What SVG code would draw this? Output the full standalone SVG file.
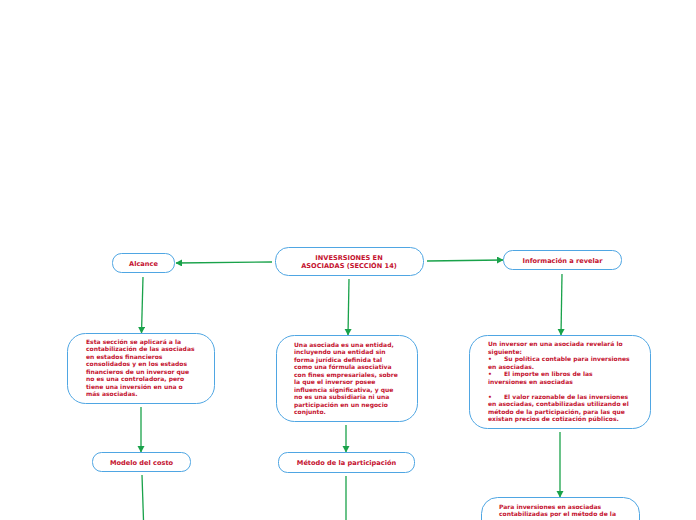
<svg xmlns="http://www.w3.org/2000/svg" width="696" height="520" viewBox="0 0 696 520">
<style>
.box{fill:#fff;stroke:#4fa6e3;stroke-width:1}
.t{font-family:"DejaVu Sans",Verdana,sans-serif;font-weight:bold;fill:#c4122f}
.h{font-size:6.6px;text-anchor:middle}
.b{font-size:6px}
.c{stroke:#19a24a;stroke-width:1.3;fill:none;marker-end:url(#ah)}
.cn{stroke:#19a24a;stroke-width:1.3;fill:none}
</style>
<defs>
<marker id="ah" markerWidth="8" markerHeight="8" refX="6" refY="3.5" orient="auto" markerUnits="userSpaceOnUse">
<path d="M0,0 L6.5,3.5 L0,7 Z" fill="#19a24a"/>
</marker>
</defs>
<rect width="696" height="520" fill="#fff"/>
<g id="connectors">
<path class="c" d="M272,262 L176,263"/>
<path class="c" d="M427,261 L503,260"/>
<path class="c" d="M143,277 L141.5,333"/>
<path class="c" d="M349,279 L348,335"/>
<path class="c" d="M562,274 L561,335"/>
<path class="c" d="M141,407 L141,452"/>
<path class="c" d="M346,425 L346,452"/>
<path class="c" d="M560,432 L560,497"/>
<path class="cn" d="M142,475 L143.5,520"/>
<path class="cn" d="M346,476 L346,520"/>
</g>
<g id="n-main">
<rect class="box" x="275.5" y="247.5" width="148" height="28" rx="13"/>
<text class="t h" x="349" y="259.5">INVESRSIONES EN</text>
<text class="t h" x="349" y="267.5">ASOCIADAS (SECCIÓN 14)</text>
</g>
<g id="n-alcance">
<rect class="box" x="112.5" y="253.5" width="62" height="19" rx="9"/>
<text class="t h" x="143.5" y="265.5">Alcance</text>
</g>
<g id="n-info">
<rect class="box" x="503.5" y="250.5" width="118" height="19" rx="9"/>
<text class="t h" x="562.5" y="262.5">Información a revelar</text>
</g>
<g id="n-alcance-text">
<rect class="box" x="67.5" y="333.5" width="147" height="70" rx="18"/>
<text class="t b" x="86" y="343.5">Esta sección se aplicará a la</text>
<text class="t b" x="86" y="351">contabilización de las asociadas</text>
<text class="t b" x="86" y="358.5">en estados financieros</text>
<text class="t b" x="86" y="366">consolidados y en los estados</text>
<text class="t b" x="86" y="373.5">financieros de un inversor que</text>
<text class="t b" x="86" y="381">no es una controladora, pero</text>
<text class="t b" x="86" y="388.5">tiene una inversión en una o</text>
<text class="t b" x="86" y="396">más asociadas.</text>
</g>
<g id="n-asociada">
<rect class="box" x="276.5" y="335.5" width="141" height="86" rx="18"/>
<text class="t b" x="294" y="346.5">Una asociada es una entidad,</text>
<text class="t b" x="294" y="354">incluyendo una entidad sin</text>
<text class="t b" x="294" y="361.5">forma jurídica definida tal</text>
<text class="t b" x="294" y="369">como una fórmula asociativa</text>
<text class="t b" x="294" y="376.5">con fines empresariales, sobre</text>
<text class="t b" x="294" y="384">la que el inversor posee</text>
<text class="t b" x="294" y="391.5">influencia significativa, y que</text>
<text class="t b" x="294" y="399">no es una subsidiaria ni una</text>
<text class="t b" x="294" y="406.5">participación en un negocio</text>
<text class="t b" x="294" y="414">conjunto.</text>
</g>
<g id="n-revelar-text">
<rect class="box" x="469.5" y="335.5" width="181" height="93" rx="18"/>
<text class="t b" x="488" y="346">Un inversor en una asociada revelará lo</text>
<text class="t b" x="488" y="353.5">siguiente:</text>
<text class="t b" x="488" y="361">•</text><text class="t b" x="504" y="361">Su política contable para inversiones</text>
<text class="t b" x="488" y="368.5">en asociadas.</text>
<text class="t b" x="488" y="376">•</text><text class="t b" x="504" y="376">El importe en libros de las</text>
<text class="t b" x="488" y="383.5">inversiones en asociadas</text>
<text class="t b" x="488" y="398.5">•</text><text class="t b" x="504" y="398.5">El valor razonable de las inversiones</text>
<text class="t b" x="488" y="406">en asociadas, contabilizadas utilizando el</text>
<text class="t b" x="488" y="413.5">método de la participación, para las que</text>
<text class="t b" x="488" y="421">existan precios de cotización públicos.</text>
</g>
<g id="n-modelo">
<rect class="box" x="92.5" y="452.5" width="98" height="19" rx="9"/>
<text class="t h" x="141.5" y="464.5">Modelo del costo</text>
</g>
<g id="n-metodo">
<rect class="box" x="278.5" y="452.5" width="136" height="20" rx="9"/>
<text class="t h" x="346.5" y="465">Método de la participación</text>
</g>
<g id="n-para">
<rect class="box" x="481.5" y="497.5" width="158" height="40" rx="16"/>
<text class="t b" x="499" y="508.5">Para inversiones en asociadas</text>
<text class="t b" x="499" y="516">contabilizadas por el método de la</text>
</g>
</svg>
